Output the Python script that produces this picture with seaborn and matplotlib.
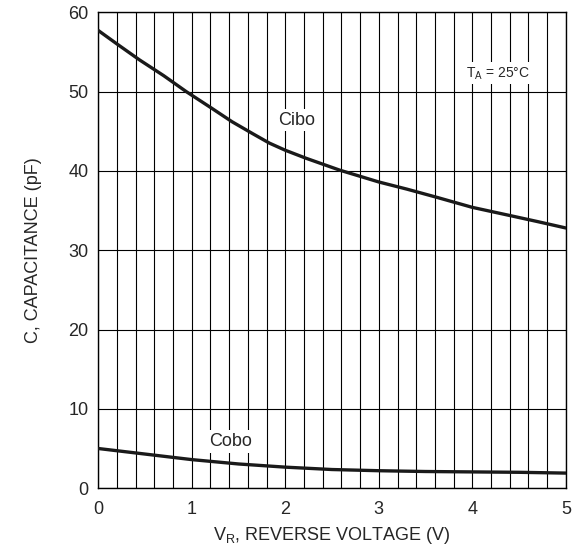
import numpy as np
import pandas as pd
import matplotlib
matplotlib.use("Agg")
import matplotlib.pyplot as plt
import seaborn as sns

# values
vr = [0.0, 0.2, 0.44, 0.7, 0.94, 1.2, 1.43, 1.65, 1.83, 2.0, 2.22, 2.58, 3.0, 3.3, 3.61, 4.0, 4.39, 4.7, 5.0]
cibo = [57.7, 56.0, 54.0, 52.0, 50.0, 48.0, 46.2, 44.7, 43.5, 42.6, 41.6, 40.1, 38.6, 37.7, 36.7, 35.4, 34.4, 33.6, 32.8]
cobo_v = [0.0, 0.5, 1.0, 1.5, 2.0, 2.5, 3.0, 3.5, 4.0, 4.5, 5.0]
cobo = [5.0, 4.3, 3.6, 3.05, 2.65, 2.35, 2.2, 2.1, 2.05, 2.0, 1.9]

df = pd.concat([
    pd.DataFrame({"vr": vr, "c": cibo, "curve": "Cibo"}),
    pd.DataFrame({"vr": cobo_v, "c": cobo, "curve": "Cobo"}),
])

sns.set_style("white")
plt.rcParams["font.family"] = ["Liberation Sans", "DejaVu Sans"]

fig = plt.figure(figsize=(5.78, 5.56), dpi=100)
ax = fig.add_axes([0.170, 0.122, 0.809, 0.856])

sns.lineplot(data=df, x="vr", y="c", units="curve", estimator=None,
             color="#1a1a1a", linewidth=2.4, ax=ax, zorder=3)

ax.set_xlim(0, 5)
ax.set_ylim(0, 60)
ax.set_xticks(np.arange(0, 6, 1))
ax.set_xticks(np.arange(0, 5.01, 0.2), minor=True)
ax.set_yticks(np.arange(0, 61, 10))
ax.grid(True, which="major", color="black", linewidth=0.8)
ax.grid(True, which="minor", axis="x", color="black", linewidth=0.8)
ax.tick_params(which="both", length=0, labelsize=13)
ax.tick_params(axis="x", pad=9)
ax.tick_params(axis="y", pad=7)
for s in ax.spines.values():
    s.set_color("black")
    s.set_linewidth(1.0)

ax.set_xlabel("V$_\\mathregular{R}$, REVERSE VOLTAGE (V)", fontsize=13, labelpad=5)
ax.set_ylabel("C, CAPACITANCE (pF)", fontsize=13, labelpad=19)

box = dict(facecolor="white", edgecolor="none", pad=2)
ax.text(2.12, 46.4, "Cibo", fontsize=13, ha="center", va="center", bbox=box, zorder=4)
ax.text(1.42, 5.9, "Cobo", fontsize=13, ha="center", va="center", bbox=box, zorder=4)
ax.text(4.27, 52.3, "T$_\\mathregular{A}$ = 25°C", fontsize=10, ha="center", va="center", bbox=box, zorder=4)

fig.savefig("out.png", dpi=100)
